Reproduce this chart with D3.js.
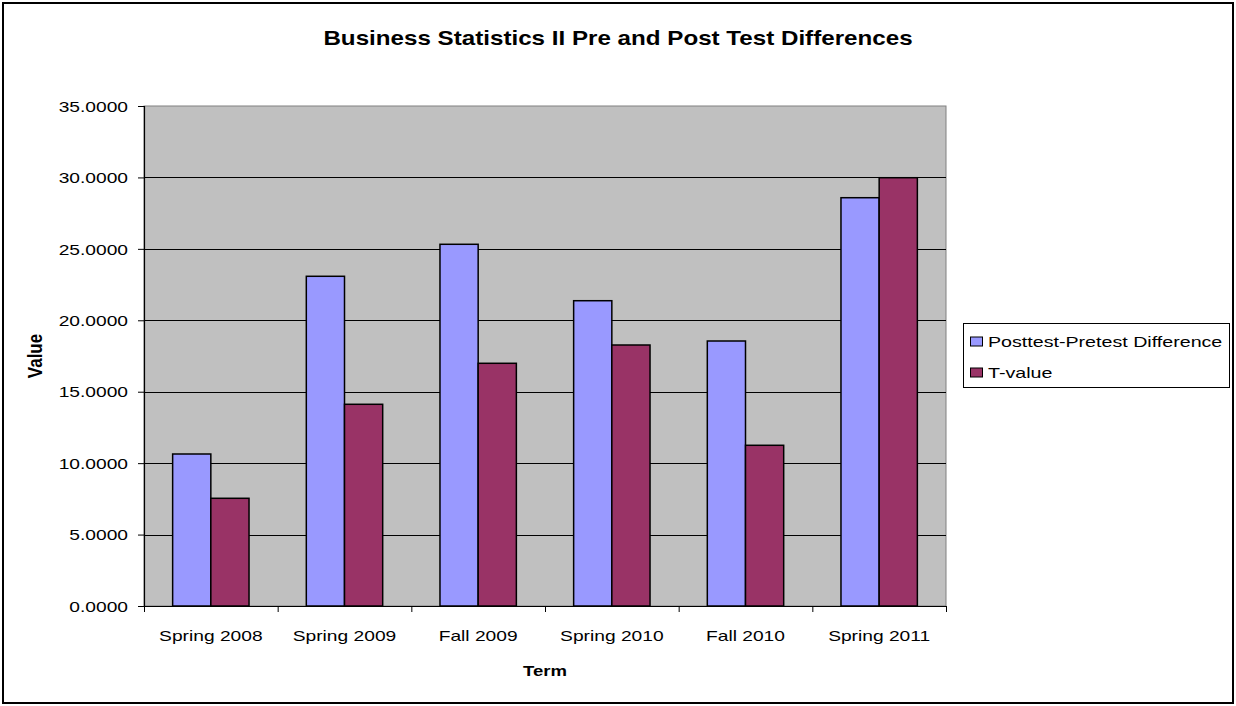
<!DOCTYPE html>
<html>
<head>
<meta charset="utf-8">
<script src="https://cdn.jsdelivr.net/npm/d3@7"></script>
<style>
  html, body { margin: 0; padding: 0; background: #fff; }
  svg text { font-family: "Liberation Sans", Arial, sans-serif; fill: #000; }
</style>
</head>
<body>
<svg id="chart" width="1236" height="706"></svg>
<script>
// Terms and the two measured series per term
const terms = ["Spring 2008", "Spring 2009", "Fall 2009", "Spring 2010", "Fall 2010", "Spring 2011"];
const posttestPretestDifference = [10.64, 23.08, 25.32, 21.37, 18.55, 28.58];
const tValue = [7.54, 14.12, 16.99, 18.27, 11.25, 29.98];
const seriesNames = ["Posttest-Pretest Difference", "T-value"];
const yTickValues = [0, 5, 10, 15, 20, 25, 30, 35];

const series = [
  { name: seriesNames[0], values: posttestPretestDifference, color: "#9999FF" },
  { name: seriesNames[1], values: tValue, color: "#993366" }
];

const svg = d3.select("#chart");
const W = 1236, H = 706;
const plot = { left: 144, right: 946, top: 106, bottom: 606 };
const SX = 1.28; // horizontal stretch applied to all lettering

// Outer chart frame
svg.append("rect").attr("x", 0).attr("y", 0).attr("width", W).attr("height", H).attr("fill", "#fff");
svg.append("rect")
  .attr("x", 3).attr("y", 3).attr("width", W - 6).attr("height", H - 6)
  .attr("fill", "none").attr("stroke", "#000").attr("stroke-width", 2);

const x = d3.scaleBand().domain(terms).range([plot.left, plot.right]).paddingInner(0).paddingOuter(0);
const y = d3.scaleLinear().domain([0, 35]).range([plot.bottom, plot.top]);
const boundary = d3.scaleLinear().domain([0, terms.length]).range([plot.left, plot.right]);

// Plot background
svg.append("rect")
  .attr("x", plot.left).attr("y", plot.top)
  .attr("width", plot.right - plot.left).attr("height", plot.bottom - plot.top)
  .attr("fill", "#C0C0C0").attr("stroke", "#808080").attr("stroke-width", 1);

// Horizontal gridlines
svg.append("g").selectAll("line")
  .data(yTickValues.filter(v => v > 0 && v < 35))
  .join("line")
  .attr("x1", plot.left).attr("x2", plot.right)
  .attr("y1", d => Math.round(y(d)) + 0.5).attr("y2", d => Math.round(y(d)) + 0.5)
  .attr("stroke", "#000").attr("stroke-width", 1);

// Bars: two per term, 150% gap width between groups
const barW = x.bandwidth() / 3.5;
const groups = svg.append("g").selectAll("g")
  .data(series)
  .join("g")
  .attr("fill", d => d.color);

groups.each(function (s, si) {
  d3.select(this).selectAll("rect")
    .data(s.values.map((v, i) => ({ term: terms[i], v })))
    .join("rect")
    .attr("x", d => x(d.term) + barW * 0.75 + si * barW)
    .attr("y", d => y(d.v))
    .attr("width", barW)
    .attr("height", d => y(0) - y(d.v))
    .attr("stroke", "#000").attr("stroke-width", 1.5);
});

function stretchText(sel, sx) {
  sel.each(function () {
    const t = d3.select(this);
    const tx = +t.attr("x") || 0;
    const ty = +t.attr("y") || 0;
    t.attr("x", 0).attr("y", 0).attr("transform", `translate(${tx},${ty}) scale(${sx},1)`);
  });
}

// Y axis
const yAxis = svg.append("g")
  .attr("transform", `translate(${plot.left},0)`)
  .call(d3.axisLeft(y).tickValues(yTickValues).tickFormat(d3.format(".4f")).tickSize(6).tickPadding(9));
yAxis.select(".domain").attr("stroke", "#000").attr("stroke-width", 1.2);
yAxis.selectAll(".tick line").attr("stroke", "#000");
yAxis.selectAll(".tick text")
  .attr("font-size", 15).attr("font-family", "Liberation Sans, Arial, sans-serif")
  .attr("x", -16).attr("dy", "0.35em");
stretchText(yAxis.selectAll(".tick text"), SX);

// X axis: tick marks at category boundaries, labels centred in each band
const xAxis = svg.append("g")
  .attr("transform", `translate(0,${plot.bottom})`)
  .call(d3.axisBottom(boundary).tickValues(d3.range(terms.length + 1)).tickFormat("").tickSize(6).tickSizeOuter(0));
xAxis.select(".domain").attr("stroke", "#000").attr("stroke-width", 1.2);
xAxis.selectAll(".tick line").attr("stroke", "#000");

const xLabels = svg.append("g")
  .attr("transform", `translate(0,${plot.bottom})`)
  .call(d3.axisBottom(x).tickSize(0).tickPadding(0));
xLabels.select(".domain").remove();
xLabels.selectAll(".tick text")
  .attr("font-size", 15).attr("font-family", "Liberation Sans, Arial, sans-serif")
  .attr("y", 35).attr("dy", 0);
stretchText(xLabels.selectAll(".tick text"), SX);

// Title
svg.append("text")
  .attr("transform", `translate(${W / 2},45) scale(1.24,1)`)
  .attr("text-anchor", "middle")
  .attr("font-size", 19.5).attr("font-weight", "bold")
  .text("Business Statistics II Pre and Post Test Differences");

// Axis titles
svg.append("text")
  .attr("transform", `translate(${(plot.left + plot.right) / 2},676) scale(${SX},1)`)
  .attr("text-anchor", "middle")
  .attr("font-size", 14.5).attr("font-weight", "bold")
  .text("Term");

svg.append("text")
  .attr("transform", `translate(42,${(plot.top + plot.bottom) / 2}) scale(1.2,1) rotate(-90)`)
  .attr("text-anchor", "middle")
  .attr("font-size", 17).attr("font-weight", "bold")
  .text("Value");

// Legend
const legend = svg.append("g").attr("transform", "translate(963,323)");
legend.append("rect")
  .attr("x", 0.5).attr("y", 0.5).attr("width", 266).attr("height", 64)
  .attr("fill", "#fff").attr("stroke", "#000").attr("stroke-width", 1);
const rows = legend.selectAll("g.row")
  .data(series)
  .join("g")
  .attr("class", "row")
  .attr("transform", (d, i) => `translate(0,${18.5 + i * 31})`);
rows.append("rect")
  .attr("x", 7.5).attr("y", -4.5).attr("width", 12).attr("height", 9)
  .attr("fill", d => d.color).attr("stroke", "#000").attr("stroke-width", 1);
rows.append("text")
  .attr("transform", `translate(25,5.5) scale(1.31,1)`)
  .attr("font-size", 15)
  .text(d => d.name);
</script>
</body>
</html>
